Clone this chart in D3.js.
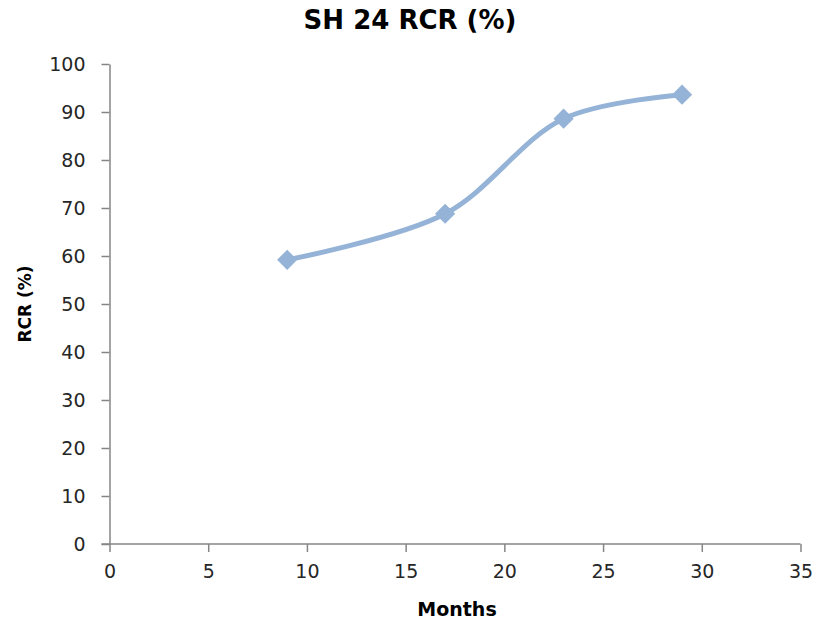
<!DOCTYPE html>
<html><head><meta charset="utf-8">
<script src="https://cdn.jsdelivr.net/npm/d3@7"></script>
<style>body{margin:0;background:#fff}svg{display:block}</style>
</head><body>
<script>
const months = [9, 17, 23, 29];
const rcr = [59.2, 68.8, 88.6, 93.6];
const xTicks = [0, 5, 10, 15, 20, 25, 30, 35];
const yTicks = [0, 10, 20, 30, 40, 50, 60, 70, 80, 90, 100];
const title = "SH 24 RCR (%)";
const xTitle = "Months";
const yTitle = "RCR (%)";

const W = 817, H = 621;
const svg = d3.select("body").append("svg").attr("width", W).attr("height", H);
const x = d3.scaleLinear().domain([0, 35]).range([109.5, 800.5]);
const y = d3.scaleLinear().domain([0, 100]).range([544, 64]);
const axisColor = "#868686", textColor = "#262626";
const font = "DejaVu Sans, Verdana, sans-serif";

const gx = svg.append("g").attr("transform", `translate(0,${y(0)})`)
  .call(d3.axisBottom(x).tickValues(xTicks).tickSize(8).tickPadding(10).tickSizeOuter(0));
const gy = svg.append("g").attr("transform", `translate(${x(0)},0)`)
  .call(d3.axisLeft(y).tickValues(yTicks).tickSize(8).tickPadding(16).tickSizeOuter(0));
[gx, gy].forEach(g => {
  g.selectAll("path,line").attr("stroke", axisColor).attr("stroke-width", 1.5);
  g.selectAll("text").attr("fill", textColor).style("font-family", font).style("font-size", "19px");
});
gx.select(".domain").attr("d", `M${x(0)-8},0H${x(35)}`);
gx.selectAll(".tick text").attr("dy", "0.85em");

const line = d3.line().x((d, i) => x(months[i])).y(d => y(d)).curve(d3.curveCatmullRom.alpha(0.5));
svg.append("path").datum(rcr).attr("d", line).attr("fill", "none")
  .attr("stroke", "#95B3D7").attr("stroke-width", 5);

const sym = d3.symbol().type(d3.symbolDiamond2).size(260);
svg.selectAll(".pt").data(rcr).enter().append("path")
  .attr("transform", (d, i) => `translate(${x(months[i])},${y(d)})`)
  .attr("d", sym).attr("fill", "#95B3D7");

svg.append("text").attr("x", 410).attr("y", 29).attr("text-anchor", "middle")
  .style("font-family", font).style("font-weight", "bold").style("font-size", "26px")
  .attr("fill", "#000").text(title);
svg.append("text").attr("x", 457).attr("y", 616).attr("text-anchor", "middle")
  .style("font-family", font).style("font-weight", "bold").style("font-size", "19px")
  .attr("fill", "#000").text(xTitle);
svg.append("text").attr("transform", "translate(31,304) rotate(-90)").attr("text-anchor", "middle")
  .style("font-family", font).style("font-weight", "bold").style("font-size", "17px")
  .attr("fill", "#000").text(yTitle);
</script>
</body></html>
